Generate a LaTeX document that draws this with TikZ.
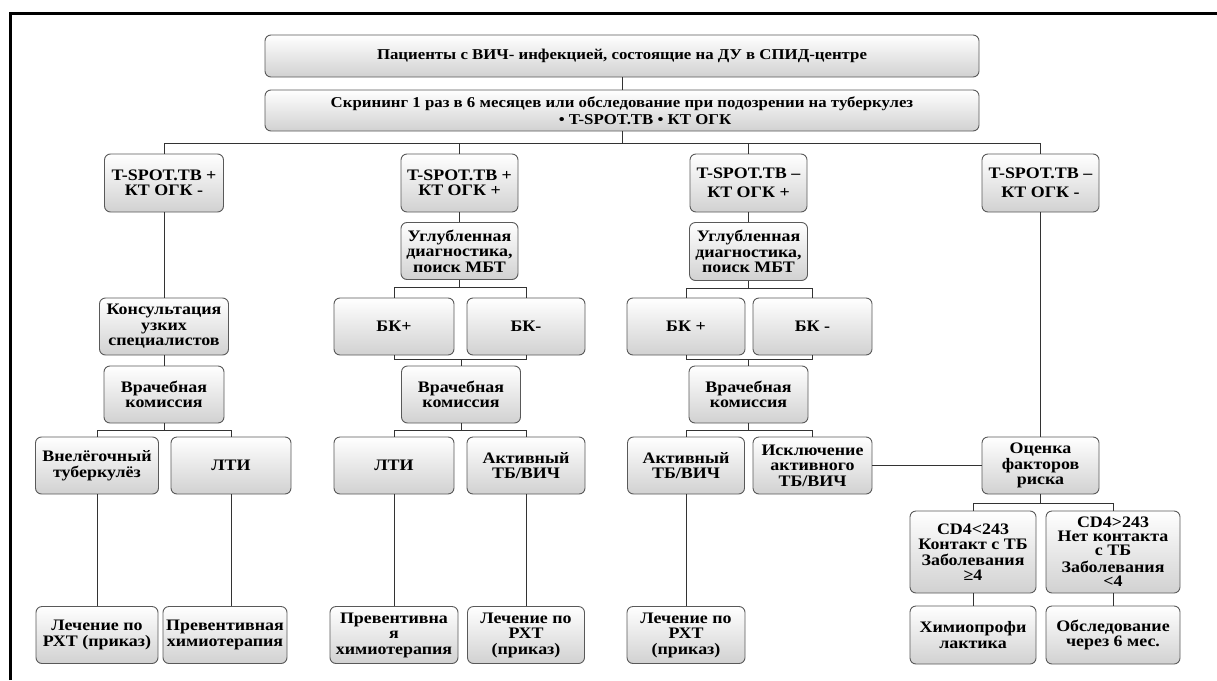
\documentclass[tikz,border=0pt]{standalone}
\usepackage{fontspec}
\setmainfont{Liberation Serif}[FakeStretch=1.12]
\usepackage{tikz}

\tikzset{
	box/.style={draw=black!65, line width=0.9pt, rounded corners=6pt, top color=white, bottom color=black!18,
		align=center, inner sep=2pt, font=\fontsize{16}{15.5}\selectfont\bfseries},
	headbox/.style={box, font=\fontsize{15}{17}\selectfont\bfseries},
	wh/.style 2 args={minimum width=#1pt, minimum height=#2pt},
	link/.style={draw=black!80, line width=0.8pt}
}

\begin{document}
\begin{tikzpicture}[x=1pt, y=-1pt]

\useasboundingbox (0,0) rectangle (1217,680);

% frame
\draw[line width=3pt] (10,680)--(10,13)--(1217,13);

% head
\node[headbox, wh={714}{42}] (top) at (622,56) {Пациенты с ВИЧ- инфекцией, состоящие на ДУ в СПИД-центре};
\node[headbox, wh={714}{41}] (scr) at (622,110.5) {Скрининг 1 раз в 6 месяцев или обследование при подозрении на туберкулез\\ \hspace*{46pt}• T-SPOT.TB • КТ ОГК};

\node[box, wh={119}{58}] (t1) at (164,183) {T-SPOT.TB +\\КТ ОГК -};
\node[box, wh={117}{58}] (t2) at (459.5,183) {T-SPOT.TB +\\КТ ОГК +};
\node[box, wh={117}{58}] (t3) at (748.5,183) {T-SPOT.TB –\\[4pt]КТ ОГК +};
\node[box, wh={117}{58}] (t4) at (1040.5,183) {T-SPOT.TB –\\[4pt]КТ ОГК -};

% column 1
\node[box, wh={129}{57}] (kons) at (164,326.5) {Консультация\\узких\\специалистов};
\node[box, wh={120}{57}] (vk1) at (164,394.5) {Врачебная\\комиссия};
\node[box, wh={123}{57}] (vneleg) at (97,465.5) {Внелёгочный\\туберкулёз};
\node[box, wh={120}{57}] (lti1) at (231,465.5) {ЛТИ};
\node[box, wh={122}{57}] (lech1) at (97,635) {Лечение по\\РХТ (приказ)};
\node[box, wh={124}{57}] (prev1) at (225,635) {Превентивная\\химиотерапия};

% column 2
\node[box, wh={117}{57}] (ugl2) at (459.5,251) {Углубленная\\диагностика,\\поиск МБТ};
\node[box, wh={120}{57}] (bk2p) at (394,326.5) {БК+};
\node[box, wh={118}{57}] (bk2m) at (526,326.5) {БК-};
\node[box, wh={119}{57}] (vk2) at (461,394.5) {Врачебная\\комиссия};
\node[box, wh={120}{57}] (lti2) at (394,465.5) {ЛТИ};
\node[box, wh={118}{57}] (akt2) at (526,465.5) {Активный\\ТБ/ВИЧ};
\node[box, wh={128}{57}] (prev2) at (394,635) {Превентивна\\я\\химиотерапия};
\node[box, wh={117}{57}] (lech2) at (526,635) {Лечение по\\РХТ\\(приказ)};

% column 3
\node[box, wh={118}{58}] (ugl3) at (748.5,251.5) {Углубленная\\диагностика,\\поиск МБТ};
\node[box, wh={118}{57}] (bk3p) at (686,326.5) {БК +};
\node[box, wh={119}{57}] (bk3m) at (812.5,326.5) {БК -};
\node[box, wh={119}{57}] (vk3) at (748.5,394.5) {Врачебная\\комиссия};
\node[box, wh={117}{57}] (akt3) at (686,465.5) {Активный\\ТБ/ВИЧ};
\node[box, wh={119}{57}] (isk3) at (812.5,465.5) {Исключение\\активного\\ТБ/ВИЧ};
\node[box, wh={118}{57}] (lech3) at (686,635) {Лечение по\\РХТ\\(приказ)};

% column 4
\node[box, wh={117}{57}] (ocen) at (1040.5,465.5) {Оценка\\факторов\\риска};
\node[box, wh={126}{82}] (cd4a) at (973,552) {CD4<243\\Контакт с ТБ\\Заболевания\\≥4};
\node[box, wh={134}{82}, font=\fontsize{16}{14}\selectfont\bfseries] (cd4b) at (1113,552) {CD4>243\\Нет контакта\\с ТБ\\[3pt]Заболевания\\<4};
\node[box, wh={126}{58}] (him) at (973,635) {Химиопрофи\\лактика};
\node[box, wh={134}{58}] (obs) at (1113,635) {Обследование\\через 6 мес.};

% links
\draw[link] (top) -- (scr);
\foreach \n in {t1,t2,t3,t4}
	\draw[link] (scr.south) -- ++(0,12) -| (\n.north);

\foreach \a/\b in {t1/kons, kons/vk1, vneleg/lech1, t2/ugl2, lti2/prev2, akt2/lech2,
	t3/ugl3, akt3/lech3, t4/ocen, isk3/ocen, cd4a/him, cd4b/obs}
	\draw[link] (\a) -- (\b);
\draw[link] (lti1) -- (lti1 |- prev1.north);

\foreach \p/\c in {vk1/vneleg, vk1/lti1, ugl2/bk2p, ugl2/bk2m, vk2/lti2, vk2/akt2,
	ugl3/bk3p, ugl3/bk3m, vk3/akt3, vk3/isk3}
	\draw[link] (\p.south) -- ++(0,7) -| (\c.north);
\foreach \p/\c in {ocen/cd4a, ocen/cd4b}
	\draw[link] (\p.south) -- ++(0,9) -| (\c.north);

\foreach \c/\p in {bk2p/vk2, bk2m/vk2, bk3p/vk3, bk3m/vk3}
	\draw[link] (\c.south) -- ++(0,4) -| (\p.north);

\end{tikzpicture}
\end{document}
